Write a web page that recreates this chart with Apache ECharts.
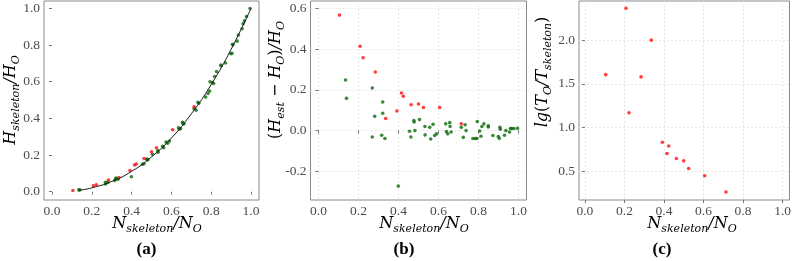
<!DOCTYPE html>
<html><head><meta charset="utf-8">
<script src="https://cdn.jsdelivr.net/npm/echarts@6/dist/echarts.min.js"></script>
<style>html,body{margin:0;padding:0;background:#fff}#c{width:794px;height:261px}</style>
</head><body><div id="c"></div>
<script>
// tick values
const xTicks = [0, 0.2, 0.4, 0.6, 0.8, 1.0];
const yTicksA = [0, 0.2, 0.4, 0.6, 0.8, 1.0];
const yTicksB = [-0.2, 0, 0.2, 0.4, 0.6];
const yTicksC = [0.5, 1.0, 1.5, 2.0];

// red points (N_skeleton/N_O) and their values in panels a, b, c
const redX = [0.105, 0.208, 0.223, 0.284, 0.336, 0.392, 0.415, 0.424, 0.463, 0.500, 0.525, 0.606, 0.714];
const redA = [0.007, 0.033, 0.038, 0.064, 0.078, 0.116, 0.146, 0.151, 0.181, 0.218, 0.240, 0.338, 0.463];
const redB = [0.566, 0.413, 0.357, 0.287, 0.059, 0.096, 0.184, 0.168, 0.127, 0.130, 0.113, 0.113, 0.033];
const redC = [1.606, 2.364, 1.170, 1.580, 2.000, 0.833, 0.705, 0.790, 0.648, 0.621, 0.534, 0.451, 0.265];

// green points
const greenX = [0.135, 0.140, 0.269, 0.281, 0.321, 0.321, 0.269, 0.316, 0.332, 0.399,
  0.455, 0.462, 0.477, 0.478, 0.482, 0.505, 0.532, 0.533, 0.556, 0.561,
  0.573, 0.581, 0.590, 0.636, 0.640, 0.646, 0.656, 0.658, 0.663, 0.714,
  0.724, 0.733, 0.738, 0.772, 0.784, 0.792, 0.794, 0.806, 0.812, 0.817,
  0.827, 0.849, 0.849, 0.872, 0.899, 0.904, 0.907, 0.909, 0.930, 0.937,
  0.955, 0.960, 0.967, 0.977, 0.995];
const greenA = [0.010, 0.010, 0.052, 0.051, 0.075, 0.071, 0.042, 0.062, 0.068, 0.082,
  0.150, 0.152, 0.177, 0.177, 0.174, 0.204, 0.224, 0.216, 0.248, 0.240,
  0.271, 0.265, 0.277, 0.349, 0.341, 0.345, 0.378, 0.374, 0.370, 0.453,
  0.445, 0.488, 0.482, 0.516, 0.536, 0.549, 0.600, 0.595, 0.590, 0.628,
  0.655, 0.691, 0.687, 0.702, 0.752, 0.755, 0.804, 0.801, 0.821, 0.855,
  0.889, 0.916, 0.932, 0.955, 0.999];
const greenB = [0.248, 0.158, 0.209, 0.070, 0.140, 0.085, -0.031, -0.023, -0.039, -0.272,
  -0.003, -0.031, 0.049, 0.042, 0.000, 0.054, 0.020, -0.021, 0.016, -0.041,
  0.031, -0.024, -0.016, 0.033, -0.005, -0.016, 0.039, 0.020, -0.007, 0.016,
  -0.033, 0.029, 0.000, -0.039, -0.039, -0.039, 0.044, -0.002, -0.028, 0.020,
  0.033, 0.024, 0.018, -0.024, -0.029, -0.038, 0.016, 0.007, -0.023, 0.000,
  -0.007, 0.010, 0.010, 0.010, 0.011];

// fitted curve in panel a
const curveX = [0.135, 0.2, 0.3, 0.4, 0.5, 0.6, 0.7, 0.8, 0.9, 1.0];
const curveY = [0.008, 0.021, 0.056, 0.111, 0.190, 0.293, 0.425, 0.585, 0.777, 1.0];

const RED = '#ff0d0d', GREEN = '#0a6a0a';
const SYM = 3.6;
const tickFont = {fontFamily: 'Liberation Serif', fontSize: 13.5, color: '#4d4d4d'};
const fmt = v => (Math.abs(v) < 1e-9 ? 0 : v).toFixed(1);

function xAxis(gi, min, max, grid) {
  return {
    type: 'value', gridIndex: gi, min: min, max: max,
    axisLine: {show: false},
    axisTick: {show: true, length: 3, customValues: xTicks, lineStyle: {color: '#777'}},
    axisLabel: Object.assign({customValues: xTicks, formatter: fmt, margin: 4}, tickFont),
    splitLine: {show: grid, lineStyle: {color: '#e6e6e6', width: 1, type: [2, 2]}}
  };
}
function yAxis(gi, min, max, ticks, grid) {
  return {
    type: 'value', gridIndex: gi, min: min, max: max,
    axisLine: {show: false},
    axisTick: {show: true, length: 3, customValues: ticks, lineStyle: {color: '#777'}},
    axisLabel: Object.assign({customValues: ticks, formatter: fmt, margin: 4}, tickFont),
    splitLine: {show: grid, lineStyle: {color: '#e6e6e6', width: 1, type: [2, 2]}}
  };
}
const pairs = (xs, ys) => xs.map((x, i) => [x, ys[i]]);

const MF = 'DejaVu Serif';
const rich = {
  i: {fontFamily: MF, fontStyle: 'italic', fontSize: 16, lineHeight: 22, color: '#262626'},
  r: {fontFamily: MF, fontSize: 16, lineHeight: 22, color: '#262626'},
  s: {fontFamily: MF, fontStyle: 'italic', fontSize: 11, verticalAlign: 'bottom', color: '#262626'}
};
const xTitle = '{i|N}{s|skeleton}{i|/N}{s|O}';
function title(x, y, text, rot) {
  return {type: 'text', x: x, y: y, rotation: rot || 0,
    style: {text: text, rich: rich, align: 'center', verticalAlign: 'middle'}};
}
function panelLabel(x, t) {
  return {type: 'text', x: x, y: 250,
    style: {text: t, font: 'bold 17px "Liberation Serif"', fill: '#000', align: 'center', verticalAlign: 'middle'}};
}

const chart = echarts.init(document.getElementById('c'), null, {renderer: 'canvas'});
chart.setOption({
  animation: false,
  backgroundColor: '#fff',
  grid: [
    {left: 44, top: 1, width: 215, height: 199, show: true, borderColor: '#8a8a8a', borderWidth: 1},
    {left: 310.5, top: 1, width: 216, height: 199, show: true, borderColor: '#8a8a8a', borderWidth: 1},
    {left: 579, top: 1, width: 214, height: 199, show: true, borderColor: '#8a8a8a', borderWidth: 1}
  ],
  xAxis: [xAxis(0, -0.04, 1.04, false), xAxis(1, -0.04, 1.04, true), xAxis(2, -0.03, 1.035, true)],
  yAxis: [yAxis(0, -0.045, 1.04, yTicksA, false), yAxis(1, -0.34, 0.635, yTicksB, true), yAxis(2, 0.174, 2.447, yTicksC, true)],
  series: [
    {type: 'scatter', xAxisIndex: 0, yAxisIndex: 0, data: pairs(greenX, greenA), symbolSize: SYM, itemStyle: {color: GREEN}, z: 2},
    {type: 'scatter', xAxisIndex: 0, yAxisIndex: 0, data: pairs(redX, redA), symbolSize: SYM, itemStyle: {color: RED}, z: 2},
    {type: 'line', xAxisIndex: 0, yAxisIndex: 0, data: pairs(curveX, curveY), smooth: true, symbol: 'none',
      lineStyle: {color: '#1a1a1a', width: 1}, z: 3},
    {type: 'scatter', xAxisIndex: 1, yAxisIndex: 1, data: pairs(greenX, greenB), symbolSize: SYM, itemStyle: {color: GREEN}},
    {type: 'scatter', xAxisIndex: 1, yAxisIndex: 1, data: pairs(redX, redB), symbolSize: SYM, itemStyle: {color: RED}},
    {type: 'scatter', xAxisIndex: 2, yAxisIndex: 2, data: pairs(redX, redC), symbolSize: SYM, itemStyle: {color: RED}}
  ],
  graphic: [
    title(157, 224, xTitle),
    title(424, 224, xTitle),
    title(692, 224, xTitle),
    title(11, 100, '{i|H}{s|skeleton}{i|/H}{s|O}', Math.PI / 2),
    title(276, 80, '{r|(}{i|H}{s|est}{r| − }{i|H}{s|O}{r|)}{i|/H}{s|O}', Math.PI / 2),
    title(543, 72, '{i|lg}{r|(}{i|T}{s|O}{i|/T}{s|skeleton}{r|)}', Math.PI / 2),
    panelLabel(146.5, '(a)'),
    panelLabel(404, '(b)'),
    panelLabel(662, '(c)')
  ]
});
</script>
</body></html>
